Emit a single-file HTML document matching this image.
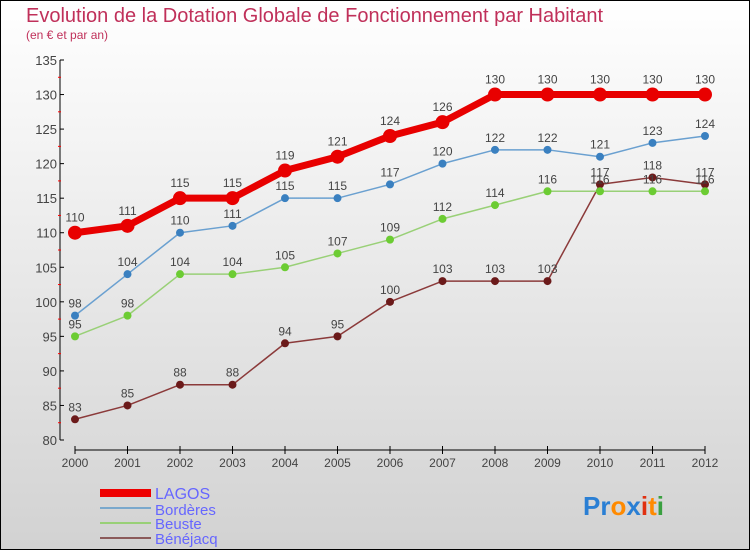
<!DOCTYPE html>
<html><head><meta charset="utf-8"><style>
body{margin:0;width:750px;height:550px;overflow:hidden}
svg{display:block;font-family:"Liberation Sans",sans-serif}
</style></head><body>
<svg id="chart" width="750" height="550">
<defs><linearGradient id="bg" x1="0" y1="0" x2="0" y2="1"><stop offset="0" stop-color="#ffffff"/><stop offset="1" stop-color="#d2d2d2"/></linearGradient></defs>
<rect x="0.5" y="0.5" width="749" height="549" fill="url(#bg)" stroke="#000"/>
<text x="26" y="22" font-size="20" fill="#c0305a">Evolution de la Dotation Globale de Fonctionnement par Habitant</text>
<text x="26" y="39" font-size="12" fill="#c0305a">(en € et par an)</text>
<g id="axes"></g><g id="series"></g>
<g>
<rect x="100" y="489" width="51" height="8" fill="#e00"/>
<text x="155" y="499" font-size="16" fill="#6666ff">LAGOS</text>
<rect x="100" y="507" width="51" height="2" fill="#7aa8cc"/>
<text x="155" y="515" font-size="15" fill="#6666ff">Bordères</text>
<rect x="100" y="522" width="51" height="2" fill="#99d077"/>
<text x="155" y="529" font-size="15" fill="#6666ff">Beuste</text>
<rect x="100" y="537" width="51" height="2" fill="#8b5a5a"/>
<text x="155" y="544" font-size="15" fill="#6666ff">Bénéjacq</text>
</g>
<text x="583" y="515" font-size="26" font-weight="bold"><tspan fill="#2a7fd4">Pr</tspan><tspan fill="#ff8a00">o</tspan><tspan fill="#2a7fd4">x</tspan><tspan fill="#e03010">i</tspan><tspan fill="#ff8a00">t</tspan><tspan fill="#3aa040">i</tspan></text>
</svg>
<script>
const years=[2000,2001,2002,2003,2004,2005,2006,2007,2008,2009,2010,2011,2012];
const lagos=[110,111,115,115,119,121,124,126,130,130,130,130,130];
const borderes=[98,104,110,111,115,115,117,120,122,122,121,123,124];
const beuste=[95,98,104,104,105,107,109,112,114,116,116,116,116];
const benejacq=[83,85,88,88,94,95,100,103,103,103,117,118,117];
const yTicks=[80,85,90,95,100,105,110,115,120,125,130,135];
const NS="http://www.w3.org/2000/svg";
const xS=i=>75+i*52.5;
const yS=v=>440-(v-80)*380/55;
function mk(t,a,p){const e=document.createElementNS(NS,t);for(const k in a)e.setAttribute(k,a[k]);p.appendChild(e);return e;}
const ax=document.getElementById('axes');
let l=mk('line',{x1:60,y1:yS(135),x2:60,y2:yS(80),stroke:'#000'},ax);


l=mk('line',{x1:75,y1:450,x2:705,y2:450,stroke:'#000'},ax);


yTicks.forEach((v,i)=>{
  mk('line',{x1:60,y1:yS(v),x2:64,y2:yS(v),stroke:'#000'},ax);
  if(i<yTicks.length-1)mk('line',{x1:58,y1:yS(v+2.5),x2:61,y2:yS(v+2.5),stroke:'#f00'},ax);
  const t=mk('text',{x:57,y:yS(v)+5,'font-size':13,fill:'#444','text-anchor':'end'},ax);t.textContent=v;
  
  
});
years.forEach((y,i)=>{
  mk('line',{x1:xS(i),y1:446,x2:xS(i),y2:454,stroke:'#000'},ax);
  const t=mk('text',{x:xS(i),y:467,'font-size':12,fill:'#444','text-anchor':'middle'},ax);t.textContent=y;
  
  
});
const sg=document.getElementById('series');
function series(name,data,color,w,r,dot,lab){
  const g=mk('g',{},sg);
  
  
  mk('polyline',{points:data.map((v,i)=>xS(i)+','+yS(v)).join(' '),fill:'none',stroke:color,'stroke-width':w,'stroke-linejoin':'round'},g);
  data.forEach((v,i)=>{
    const c=mk('circle',{cx:xS(i),cy:yS(v),r:r,fill:dot},g);
    
    
    const t=mk('text',{x:xS(i),y:yS(v)-lab,'font-size':12,fill:'#444','text-anchor':'middle'},g);t.textContent=v;
    
    
  });
}
series('benejacq',benejacq,'#8b3a3a',1.5,4,'#6b1a1a',8);
series('beuste',beuste,'#99d077',1.5,4,'#6ccc33',8);
series('borderes',borderes,'#6aa0d0',1.5,4,'#3a80c0',8);
series('lagos',lagos,'#e80000',7,7,'#e80000',11);
</script>
</body></html>
